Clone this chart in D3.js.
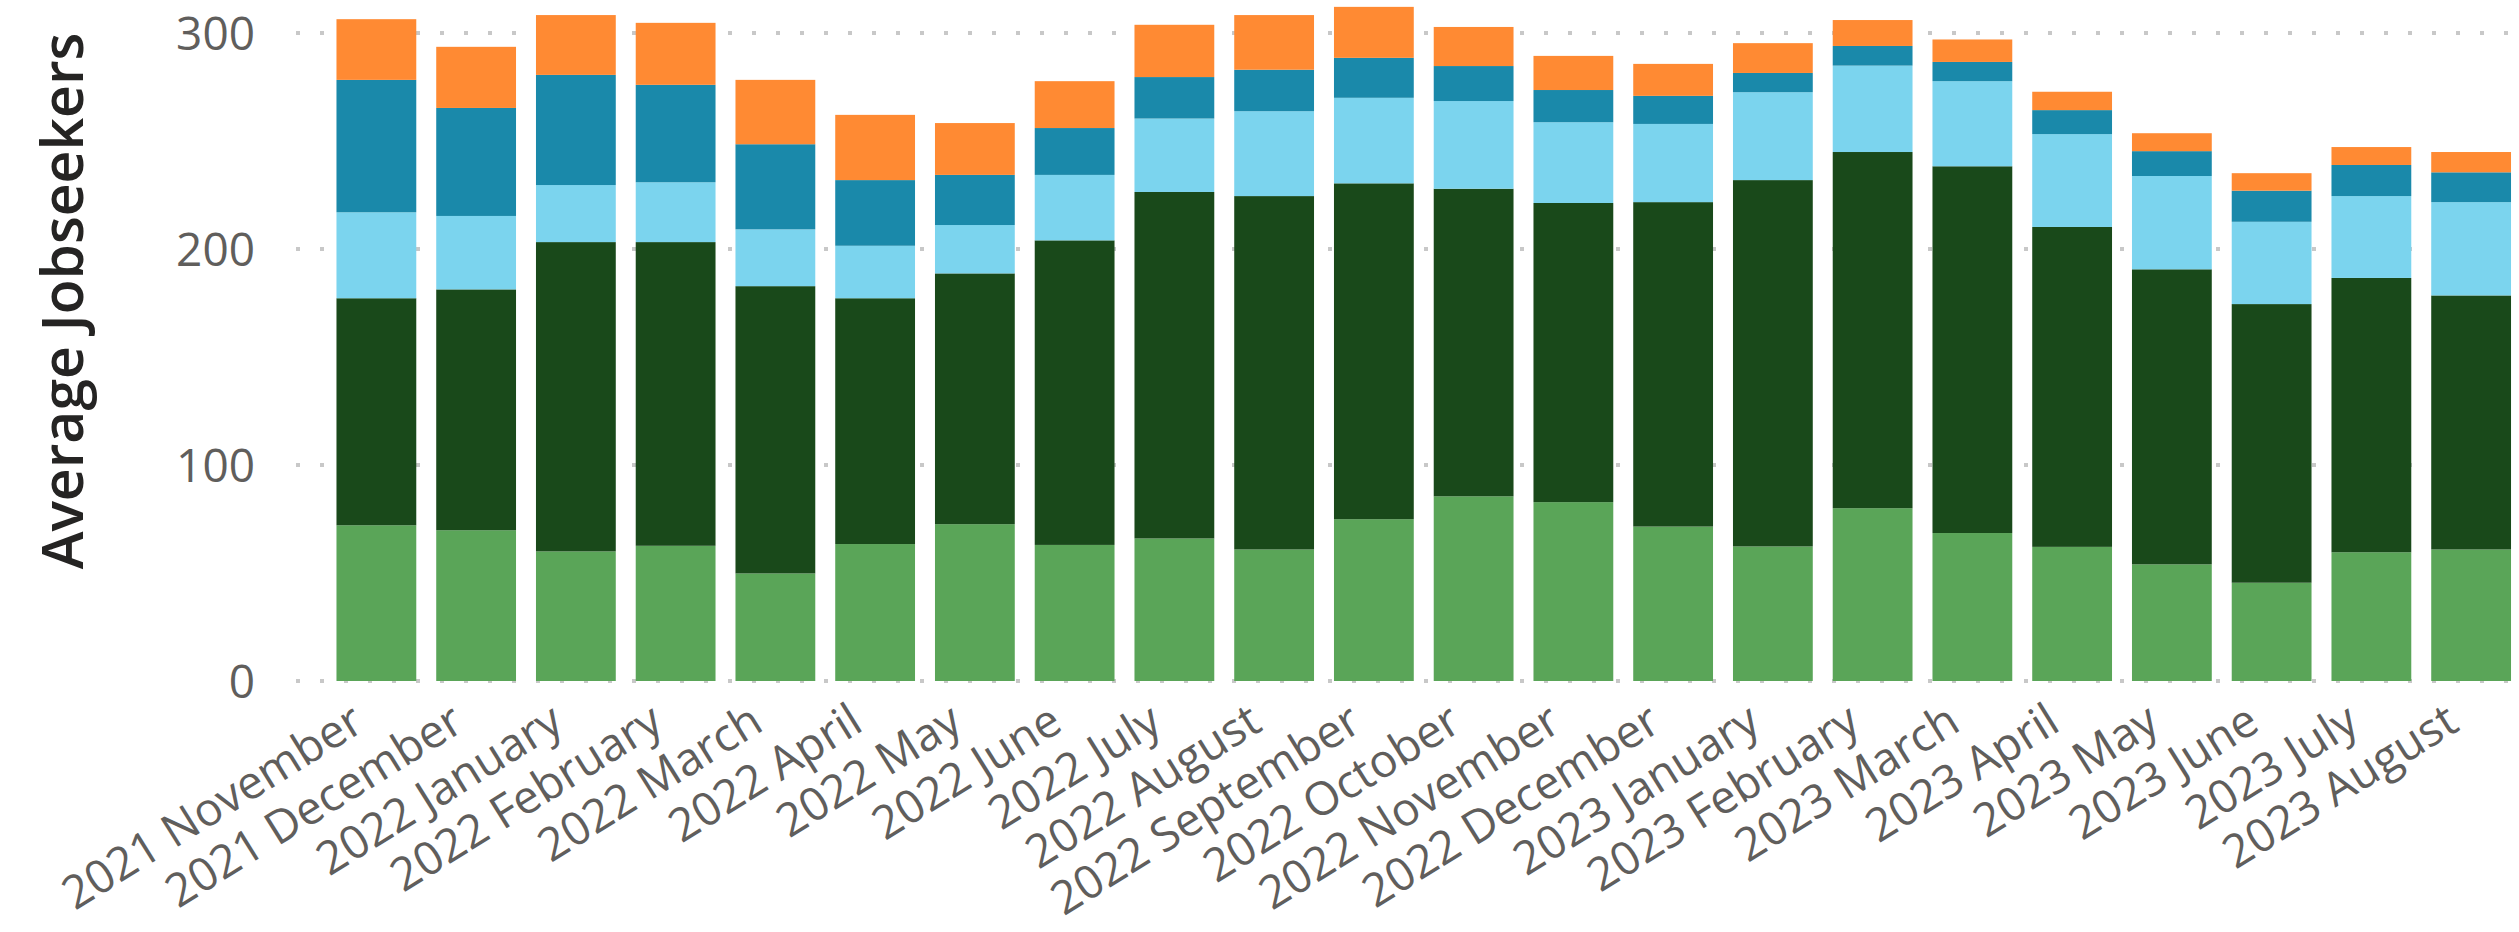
<!DOCTYPE html>
<html>
<head>
<meta charset="utf-8">
<script src="https://cdn.jsdelivr.net/npm/d3@7"></script>
<style>
  html, body { margin: 0; padding: 0; background: #ffffff; }
  svg { display: block; }
</style>
</head>
<body>
<svg id="chart" width="2519" height="932"></svg>
<script>
// ---- data ----
const months = [
  "2021 November", "2021 December", "2022 January", "2022 February", "2022 March",
  "2022 April", "2022 May", "2022 June", "2022 July", "2022 August",
  "2022 September", "2022 October", "2022 November", "2022 December", "2023 January",
  "2023 February", "2023 March", "2023 April", "2023 May", "2023 June",
  "2023 July", "2023 August"
];
// stacked bottom -> top
const seriesNames = ["Series A", "Series B", "Series C", "Series D", "Series E"];
const seriesA = [72.1, 69.8, 60.0, 62.6, 49.8, 63.4, 72.6, 63.0, 66.0, 60.9, 74.9, 85.5, 82.8, 71.5, 62.3, 80.0, 68.5, 62.1, 54.0, 45.5, 59.6, 60.9];
const seriesB = [105.1, 111.5, 143.2, 140.6, 133.0, 113.8, 116.1, 141.0, 160.4, 163.6, 155.5, 142.4, 138.5, 150.2, 169.6, 164.9, 169.8, 148.1, 136.6, 129.0, 127.0, 117.6];
const seriesC = [39.8, 34.0, 26.4, 27.7, 26.3, 24.3, 22.4, 30.3, 34.0, 39.3, 39.6, 40.6, 37.4, 36.2, 40.7, 40.0, 39.4, 43.0, 43.2, 38.1, 37.9, 43.2];
const seriesD = [61.3, 50.0, 51.0, 45.1, 39.4, 30.4, 23.2, 21.7, 19.2, 19.2, 18.5, 16.2, 14.9, 13.0, 8.9, 9.1, 8.9, 11.1, 11.5, 14.4, 14.4, 13.8];
const seriesE = [28.1, 28.3, 27.7, 28.7, 29.8, 30.2, 24.0, 21.7, 24.2, 25.3, 23.6, 18.1, 15.8, 14.8, 13.8, 12.0, 10.4, 8.5, 8.3, 8.1, 8.3, 9.4];
const yTicks = [0, 100, 200, 300];
const yTitle = "Average Jobseekers";

// ---- styles ----
const colors = ["#5AA558", "#19491A", "#7BD4EE", "#1A89AA", "#FF8A33"];
const FONT = "'Segoe UI', 'Open Sans', sans-serif";

const svg = d3.select("#chart");
svg.append("rect").attr("width", 2519).attr("height", 932).attr("fill", "#ffffff");

const table = months.map((m, i) => ({
  month: m,
  "Series A": seriesA[i], "Series B": seriesB[i], "Series C": seriesC[i],
  "Series D": seriesD[i], "Series E": seriesE[i]
}));
const stacked = d3.stack().keys(seriesNames)(table);

const x = d3.scaleBand().domain(months).range([326.5, 2521]).paddingInner(0.2).paddingOuter(0.1);
const y = d3.scaleLinear().domain([0, 300]).range([681, 33]);
const color = d3.scaleOrdinal().domain(seriesNames).range(colors);

// gridlines (dotted)
const grid = svg.append("g");
grid.selectAll("line").data(yTicks).join("line")
  .attr("x1", 296).attr("x2", 2519)
  .attr("y1", d => y(d)).attr("y2", d => y(d))
  .attr("stroke", "#c8c8c8").attr("stroke-width", 4)
  .attr("stroke-dasharray", "4 20");

// y axis labels
const yAxis = d3.axisLeft(y).tickValues(yTicks).tickSize(0).tickPadding(0).tickFormat(d3.format("d"));
const yg = svg.append("g").attr("transform", "translate(255,0)").call(yAxis);
yg.select(".domain").remove();
yg.selectAll("text")
  .attr("font-family", FONT).attr("font-size", 46).attr("fill", "#605E5C")
  .attr("dy", "0.35em");

// bars
svg.append("g").selectAll("g").data(stacked).join("g")
  .attr("fill", d => color(d.key))
  .selectAll("rect").data(d => d).join("rect")
  .attr("x", d => x(d.data.month))
  .attr("width", x.bandwidth())
  .attr("y", d => y(d[1]))
  .attr("height", d => y(d[0]) - y(d[1]));

// x axis labels
const xAxis = d3.axisBottom(x).tickSize(0).tickPadding(0);
const xg = svg.append("g").attr("transform", "translate(0,729)").call(xAxis);
xg.select(".domain").remove();
xg.selectAll(".tick text")
  .attr("font-family", FONT).attr("font-size", 46).attr("fill", "#605E5C")
  .attr("text-anchor", "end")
  .attr("x", -10).attr("y", 0).attr("dy", 0)
  .attr("transform", "rotate(-32,-10,0)");

// y title
svg.append("text")
  .attr("transform", "translate(83,301) rotate(-90)")
  .attr("text-anchor", "middle")
  .attr("font-family", FONT).attr("font-size", 57).attr("font-weight", 600)
  .attr("fill", "#252423")
  .text(yTitle);
</script>
</body>
</html>
